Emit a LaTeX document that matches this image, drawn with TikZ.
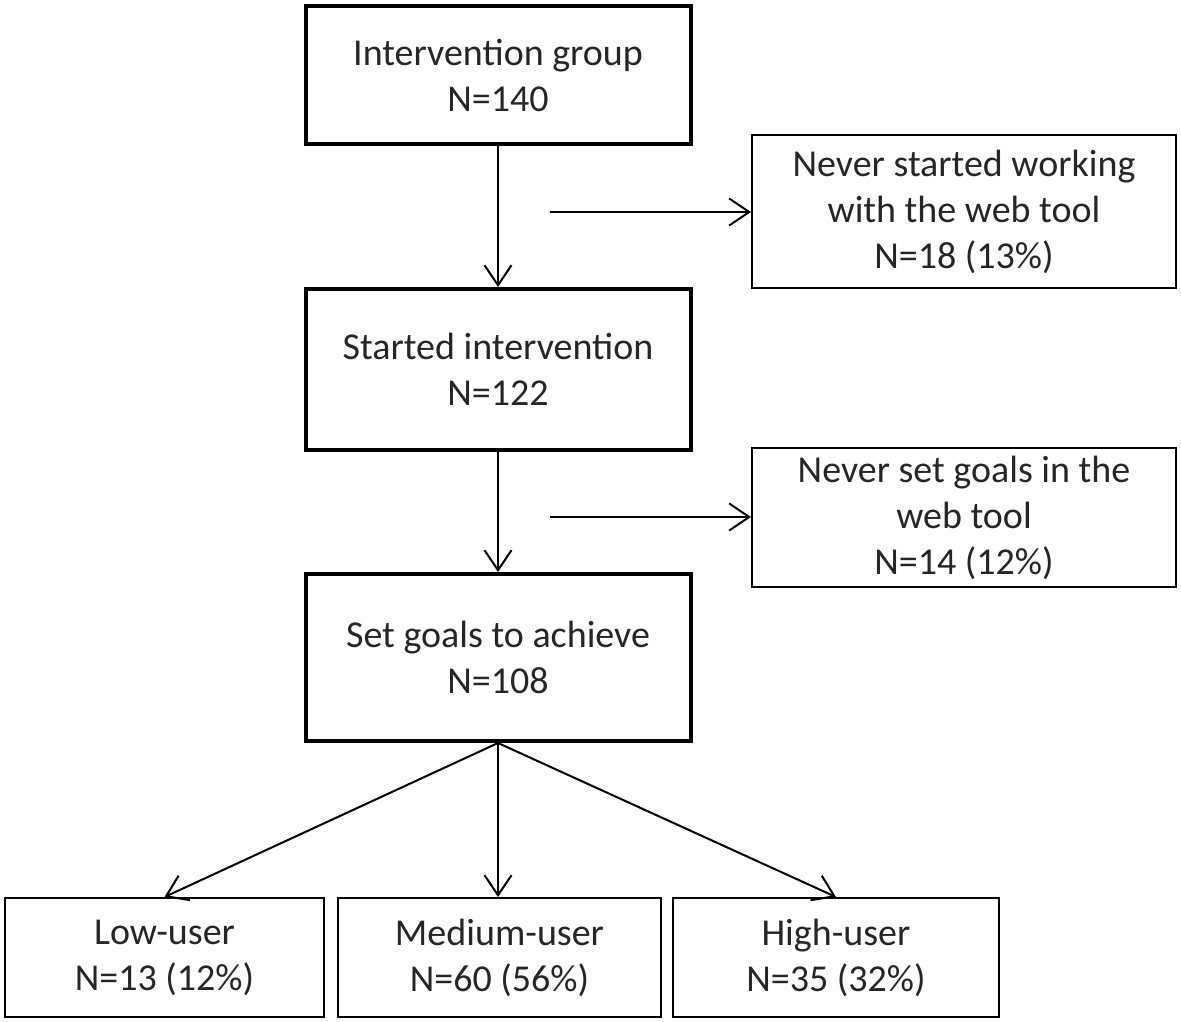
\documentclass[tikz,border=0pt]{standalone}
\usepackage{fontspec}
\setmainfont{Carlito}
\usetikzlibrary{arrows.meta, positioning}

\begin{document}
\begin{tikzpicture}[x=1pt, y=-1pt,
        mainbox/.style={rectangle, draw, line width=4pt, minimum width=385pt, align=center, inner sep=0pt},
        sidebox/.style={rectangle, draw, line width=2pt, minimum width=424pt, align=center, inner sep=0pt},
        userbox/.style={rectangle, draw, line width=2pt, minimum height=119pt, align=center, inner sep=0pt},
        arrowline/.style={-{Straight Barb[length=20pt, width=27pt, line width=2pt]}, line width=2pt}
    ]
        \useasboundingbox (0,0) rectangle (1181,1022);
        \tikzset{every node/.append style={font=\fontsize{38}{46}\selectfont, text=black!85}}
        \node[mainbox, minimum height=138pt] (intv) at (498,75) {Intervention group\\N=140};
        \node[sidebox, minimum height=153pt] (never1) at (964,211.5) {Never started working\\with the web tool\\N=18 (13\%)};
        \node[mainbox, minimum height=161pt] (started) at (498,369.5) {Started intervention\\N=122};
        \node[sidebox, minimum height=139pt] (never2) at (964,517.5) {Never set goals in the\\web tool\\N=14 (12\%)};
        \node[mainbox, minimum height=167pt] (goals) at (498,657.5) {Set goals to achieve\\N=108};
        \node[userbox, minimum width=319pt] (low) at (164.5,957.5) {Low-user\\N=13 (12\%)};
        \node[userbox, minimum width=323pt] (medium) at (499.5,957.5) {Medium-user\\N=60 (56\%)};
        \node[userbox, minimum width=326pt] (high) at (836,957.5) {High-user\\N=35 (32\%)};
        \coordinate (split1) at (550,212);
        \coordinate (split2) at (550,517);
        \draw[arrowline] (intv.south) -- (started.north);
        \draw[arrowline] (split1) -- (never1.west |- split1);
        \draw[arrowline] (started.south) -- (goals.north);
        \draw[arrowline] (split2) -- (never2.west |- split2);
        \draw[arrowline] (goals.south) -- (low.north);
        \draw[arrowline] (goals.south) -- (medium.north -| goals.south);
        \draw[arrowline] (goals.south) -- (high.north);
    \end{tikzpicture}
\end{document}
